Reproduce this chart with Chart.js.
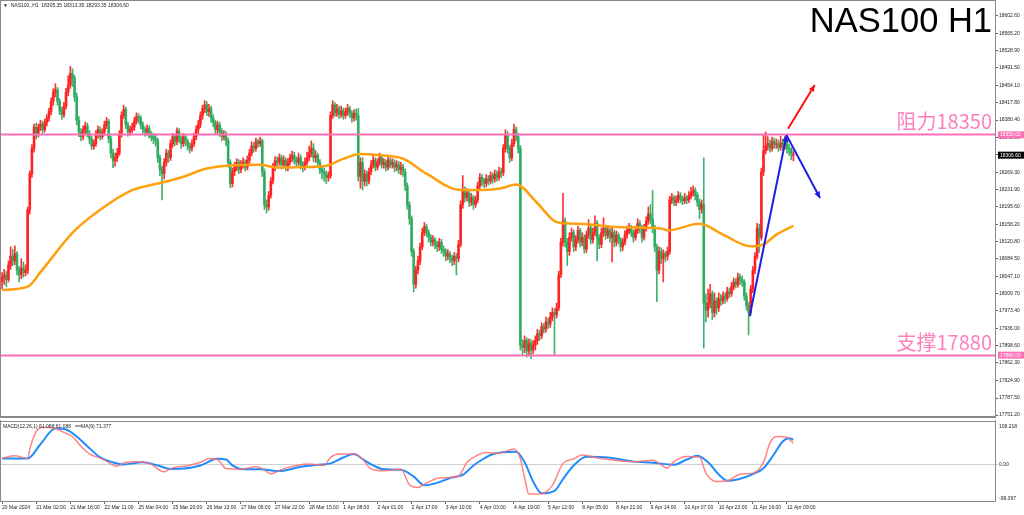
<!DOCTYPE html>
<html lang="zh">
<head>
<meta charset="UTF-8">
<title>NAS100 H1</title>
<script src="https://cdn.jsdelivr.net/npm/chart.js"></script>
<style>
  html, body { margin: 0; padding: 0; background: #fff; }
  .wrap { position: relative; width: 1024px; height: 515px; overflow: hidden; background: #fff; }
  #priceChart { position: absolute; left: 0; top: 0; }
  #macdChart { position: absolute; left: 0; top: 420px; }
</style>
</head>
<body>
<div class="wrap">
  <canvas id="priceChart" width="1024" height="421"></canvas>
  <canvas id="macdChart" width="1024" height="95"></canvas>
</div>
<script>
// ---- H1 candles, bar index 0 = 20 Mar 2024, last bar = 12 Apr 12:00 ----
const opens = [
  18035, 18045, 18050, 18040, 18070, 18090, 18080, 18095, 18060, 18050,
  18065, 18055, 18060, 18189, 18266, 18320, 18365, 18350, 18365, 18372,
  18360, 18375, 18385, 18399, 18420, 18440, 18445, 18420, 18400, 18392,
  18410, 18440, 18455, 18480, 18470, 18430, 18380, 18355, 18345, 18360,
  18368, 18352, 18340, 18325, 18330, 18350, 18360, 18345, 18355, 18370,
  18378, 18340, 18310, 18294, 18300, 18310, 18350, 18390, 18403, 18370,
  18355, 18360, 18365, 18378, 18388, 18384, 18370, 18360, 18355, 18362,
  18350, 18345, 18340, 18336, 18300, 18275, 18266, 18290, 18310, 18300,
  18330, 18345, 18335, 18357, 18340, 18330, 18345, 18335, 18325, 18320,
  18330, 18345, 18360, 18371, 18390, 18405, 18413, 18398, 18405, 18385,
  18375, 18360, 18370, 18355, 18345, 18350, 18336, 18290, 18245, 18270,
  18280, 18290, 18275, 18285, 18290, 18280, 18295, 18310, 18325, 18320,
  18335, 18330, 18336, 18270, 18200, 18195, 18220, 18250, 18280, 18294,
  18290, 18300, 18285, 18295, 18280, 18290, 18300, 18305, 18295, 18290,
  18300, 18285, 18280, 18290, 18300, 18310, 18320, 18300, 18305, 18290,
  18275, 18270, 18265, 18258, 18262, 18390, 18413, 18395, 18405, 18392,
  18400, 18390, 18398, 18405, 18395, 18385, 18395, 18390, 18260, 18290,
  18250, 18265, 18250, 18270, 18285, 18295, 18280, 18290, 18300, 18285,
  18290, 18280, 18295, 18285, 18290, 18280, 18285, 18275, 18280, 18270,
  18240, 18200, 18170, 18100, 18030, 18060, 18080, 18110, 18140, 18153,
  18140, 18130, 18120, 18125, 18115, 18110, 18120, 18105, 18100, 18090,
  18095, 18085, 18080, 18090, 18085, 18115, 18200, 18231, 18215, 18225,
  18205, 18215, 18200, 18210, 18240, 18258, 18250, 18245, 18255, 18250,
  18262, 18255, 18265, 18258, 18270, 18268, 18320, 18350, 18320, 18300,
  18330, 18360, 18345, 18320, 17900, 17895, 17910, 17888, 17905, 17890,
  17900, 17910, 17925, 17920, 17940, 17935, 17950, 17945, 17960, 17970,
  17965, 17980, 18050, 18120, 18165, 18120, 18100, 18130, 18140, 18110,
  18125, 18145, 18120, 18130, 18105, 18135, 18150, 18125, 18140, 18160,
  18130, 18115, 18140, 18150, 18135, 18145, 18130, 18140, 18120, 18135,
  18125, 18110, 18120, 18135, 18145, 18150, 18140, 18130, 18145, 18160,
  18150, 18130, 18150, 18165, 18180, 18170, 18150, 18110, 18060, 18100,
  18085, 18095, 18090, 18100, 18210, 18215, 18205, 18210, 18220, 18212,
  18208, 18215, 18210, 18218, 18225, 18230, 18220, 18205, 18190, 18200,
  17990, 17975, 17990, 18010, 17970, 17995, 17980, 18000, 17995, 18005,
  18000, 18015, 18010, 18025, 18035, 18030, 18045, 18040, 18035, 18005,
  17985, 17970, 18020, 18060, 18090, 18150, 18130, 18270, 18315, 18325,
  18330, 18320, 18335, 18328, 18330, 18322, 18332, 18325, 18335, 18320,
  18318, 18305.35
];
const highs = [
  18055, 18062, 18058, 18080, 18110, 18105, 18112, 18100, 18068, 18085,
  18078, 18072, 18195, 18272, 18328, 18372, 18374, 18372, 18380, 18378,
  18382, 18392, 18406, 18428, 18447, 18458, 18450, 18426, 18408, 18418,
  18448, 18475, 18495, 18490, 18476, 18438, 18388, 18362, 18368, 18376,
  18374, 18358, 18346, 18338, 18358, 18368, 18366, 18362, 18378, 18386,
  18382, 18346, 18318, 18310, 18320, 18358, 18398, 18412, 18408, 18376,
  18368, 18374, 18386, 18396, 18394, 18390, 18376, 18366, 18370, 18368,
  18356, 18352, 18348, 18342, 18306, 18282, 18298, 18318, 18316, 18338,
  18352, 18350, 18364, 18362, 18346, 18352, 18350, 18340, 18332, 18338,
  18352, 18368, 18380, 18398, 18412, 18422, 18420, 18414, 18410, 18392,
  18380, 18378, 18376, 18362, 18358, 18356, 18342, 18296, 18278, 18290,
  18298, 18296, 18294, 18300, 18296, 18304, 18318, 18334, 18332, 18342,
  18340, 18344, 18340, 18276, 18210, 18228, 18258, 18288, 18302, 18302,
  18308, 18306, 18304, 18300, 18298, 18308, 18314, 18312, 18302, 18310,
  18306, 18292, 18300, 18312, 18325, 18336, 18330, 18315, 18310, 18296,
  18284, 18278, 18272, 18270, 18398, 18422, 18418, 18414, 18410, 18410,
  18406, 18406, 18414, 18410, 18400, 18402, 18404, 18405, 18300, 18300,
  18274, 18272, 18278, 18294, 18304, 18300, 18298, 18310, 18306, 18298,
  18296, 18304, 18300, 18298, 18296, 18294, 18292, 18290, 18286, 18276,
  18246, 18206, 18176, 18106, 18068, 18090, 18118, 18150, 18162, 18158,
  18146, 18136, 18134, 18130, 18122, 18128, 18126, 18112, 18106, 18104,
  18100, 18092, 18098, 18096, 18124, 18208, 18262, 18238, 18234, 18230,
  18224, 18220, 18218, 18248, 18266, 18264, 18256, 18264, 18262, 18270,
  18268, 18274, 18272, 18280, 18278, 18328, 18360, 18356, 18326, 18340,
  18372, 18366, 18352, 18326, 17912, 17920, 17916, 17914, 17912, 17910,
  17920, 17934, 17932, 17948, 17946, 17960, 17958, 17970, 17980, 17978,
  17990, 18058, 18128, 18224, 18172, 18128, 18140, 18150, 18146, 18134,
  18154, 18150, 18140, 18136, 18144, 18168, 18156, 18150, 18176, 18166,
  18136, 18150, 18172, 18156, 18154, 18150, 18150, 18146, 18144, 18140,
  18130, 18128, 18144, 18154, 18160, 18156, 18146, 18154, 18170, 18166,
  18156, 18158, 18174, 18195, 18200, 18230, 18156, 18116, 18110, 18108,
  18104, 18100, 18110, 18218, 18224, 18220, 18218, 18228, 18226, 18218,
  18224, 18220, 18228, 18237, 18240, 18236, 18226, 18212, 18210, 18300,
  18010, 18020, 18030, 18016, 18012, 18002, 18012, 18008, 18014, 18012,
  18024, 18022, 18034, 18044, 18042, 18054, 18052, 18048, 18040, 18012,
  17992, 18028, 18068, 18098, 18160, 18158, 18278, 18350, 18355, 18345,
  18338, 18344, 18342, 18340, 18338, 18346, 18340, 18345, 18342, 18328,
  18322, 18313.35
];
const lows = [
  18020, 18030, 18025, 18035, 18062, 18070, 18072, 18050, 18035, 18042,
  18045, 18048, 18052, 18180, 18258, 18312, 18340, 18344, 18358, 18352,
  18355, 18368, 18378, 18392, 18412, 18430, 18412, 18392, 18382, 18386,
  18404, 18432, 18448, 18452, 18420, 18370, 18345, 18336, 18338, 18352,
  18345, 18330, 18318, 18318, 18324, 18342, 18338, 18340, 18348, 18362,
  18332, 18300, 18279, 18282, 18292, 18305, 18344, 18384, 18362, 18346,
  18348, 18354, 18358, 18372, 18374, 18362, 18352, 18346, 18348, 18342,
  18336, 18330, 18325, 18290, 18262, 18210, 18255, 18282, 18290, 18294,
  18322, 18326, 18328, 18332, 18320, 18324, 18326, 18316, 18310, 18314,
  18324, 18338, 18352, 18364, 18382, 18396, 18390, 18388, 18376, 18366,
  18350, 18352, 18346, 18336, 18338, 18326, 18280, 18236, 18238, 18262,
  18272, 18266, 18268, 18278, 18272, 18274, 18288, 18304, 18312, 18314,
  18322, 18324, 18260, 18190, 18182, 18188, 18214, 18244, 18272, 18282,
  18284, 18276, 18278, 18272, 18272, 18284, 18292, 18286, 18282, 18284,
  18276, 18270, 18274, 18284, 18294, 18302, 18292, 18290, 18280, 18266,
  18255, 18250, 18245, 18250, 18256, 18384, 18388, 18388, 18384, 18386,
  18382, 18384, 18390, 18386, 18376, 18378, 18380, 18250, 18235, 18231,
  18240, 18240, 18244, 18264, 18278, 18272, 18274, 18284, 18278, 18278,
  18272, 18274, 18278, 18278, 18270, 18272, 18266, 18264, 18260, 18230,
  18190, 18158, 18090, 18014, 18022, 18052, 18072, 18104, 18134, 18132,
  18120, 18112, 18112, 18106, 18100, 18102, 18096, 18090, 18080, 18082,
  18076, 18070, 18072, 18050, 18078, 18110, 18192, 18206, 18208, 18196,
  18198, 18190, 18194, 18204, 18232, 18240, 18236, 18238, 18242, 18244,
  18246, 18248, 18250, 18252, 18258, 18262, 18312, 18310, 18290, 18294,
  18324, 18336, 18310, 17890, 17878, 17884, 17875, 17880, 17872, 17882,
  17890, 17902, 17910, 17914, 17926, 17928, 17936, 17938, 17952, 17880,
  17958, 17974, 18044, 18112, 18110, 18070, 18092, 18122, 18100, 18102,
  18118, 18110, 18112, 18096, 18098, 18128, 18116, 18118, 18134, 18080,
  18106, 18108, 18132, 18126, 18128, 18120, 18078, 18110, 18112, 18116,
  18100, 18102, 18114, 18128, 18138, 18132, 18120, 18124, 18138, 18140,
  18120, 18124, 18144, 18158, 18160, 18140, 18100, 17993, 18052, 18074,
  18035, 18078, 18082, 18094, 18202, 18198, 18198, 18204, 18204, 18200,
  18202, 18202, 18204, 18212, 18218, 18210, 18196, 18170, 18182, 17894,
  17950, 17960, 17980, 17955, 17960, 17966, 17972, 17985, 17988, 17990,
  17994, 18002, 18004, 18018, 18022, 18024, 18030, 18026, 17996, 17975,
  17922, 17964, 18012, 18052, 18084, 18098, 18124, 18262, 18308, 18316,
  18312, 18314, 18320, 18320, 18314, 18316, 18316, 18318, 18310, 18305,
  18296, 18293.35
];
const closes = [
  18045, 18050, 18040, 18070, 18090, 18080, 18095, 18060, 18050, 18065,
  18055, 18060, 18189, 18266, 18320, 18365, 18350, 18365, 18372, 18360,
  18375, 18385, 18399, 18420, 18440, 18445, 18420, 18400, 18392, 18410,
  18440, 18455, 18480, 18470, 18430, 18380, 18355, 18345, 18360, 18368,
  18352, 18340, 18325, 18330, 18350, 18360, 18345, 18355, 18370, 18378,
  18340, 18310, 18294, 18300, 18310, 18350, 18390, 18403, 18370, 18355,
  18360, 18365, 18378, 18388, 18384, 18370, 18360, 18355, 18362, 18350,
  18345, 18340, 18336, 18300, 18275, 18266, 18290, 18310, 18300, 18330,
  18345, 18335, 18357, 18340, 18330, 18345, 18335, 18325, 18320, 18330,
  18345, 18360, 18371, 18390, 18405, 18413, 18398, 18405, 18385, 18375,
  18360, 18370, 18355, 18345, 18350, 18336, 18290, 18245, 18270, 18280,
  18290, 18275, 18285, 18290, 18280, 18295, 18310, 18325, 18320, 18335,
  18330, 18336, 18270, 18200, 18195, 18220, 18250, 18280, 18294, 18290,
  18300, 18285, 18295, 18280, 18290, 18300, 18305, 18295, 18290, 18300,
  18285, 18280, 18290, 18300, 18310, 18320, 18300, 18305, 18290, 18275,
  18270, 18265, 18258, 18262, 18390, 18413, 18395, 18405, 18392, 18400,
  18390, 18398, 18405, 18395, 18385, 18395, 18390, 18260, 18290, 18250,
  18265, 18250, 18270, 18285, 18295, 18280, 18290, 18300, 18285, 18290,
  18280, 18295, 18285, 18290, 18280, 18285, 18275, 18280, 18270, 18240,
  18200, 18170, 18100, 18030, 18060, 18080, 18110, 18140, 18153, 18140,
  18130, 18120, 18125, 18115, 18110, 18120, 18105, 18100, 18090, 18095,
  18085, 18080, 18090, 18085, 18115, 18200, 18231, 18215, 18225, 18205,
  18215, 18200, 18210, 18240, 18258, 18250, 18245, 18255, 18250, 18262,
  18255, 18265, 18258, 18270, 18268, 18320, 18350, 18320, 18300, 18330,
  18360, 18345, 18320, 17900, 17895, 17910, 17888, 17905, 17890, 17900,
  17910, 17925, 17920, 17940, 17935, 17950, 17945, 17960, 17970, 17965,
  17980, 18050, 18120, 18165, 18120, 18100, 18130, 18140, 18110, 18125,
  18145, 18120, 18130, 18105, 18135, 18150, 18125, 18140, 18160, 18130,
  18115, 18140, 18150, 18135, 18145, 18130, 18140, 18120, 18135, 18125,
  18110, 18120, 18135, 18145, 18150, 18140, 18130, 18145, 18160, 18150,
  18130, 18150, 18165, 18180, 18170, 18150, 18110, 18060, 18100, 18085,
  18095, 18090, 18100, 18210, 18215, 18205, 18210, 18220, 18212, 18208,
  18215, 18210, 18218, 18225, 18230, 18220, 18205, 18190, 18200, 17990,
  17975, 17990, 18010, 17970, 17995, 17980, 18000, 17995, 18005, 18000,
  18015, 18010, 18025, 18035, 18030, 18045, 18040, 18035, 18005, 17985,
  17970, 18020, 18060, 18090, 18150, 18130, 18270, 18315, 18325, 18330,
  18320, 18335, 18328, 18330, 18322, 18332, 18325, 18335, 18320, 18318,
  18310, 18306.6
];

// moving average (orange) at these bar indices
const maIdx = [0, 12, 18, 33, 46, 61, 73, 84, 96, 106,
  121, 129, 140, 152, 159, 168, 176, 188, 199, 215,
  224, 234, 241, 251, 260, 271, 286, 299, 309, 312,
  327, 338, 351, 357, 363, 371];
const maVals = [18018, 18025, 18056, 18140, 18189, 18231, 18245, 18258, 18277, 18283,
  18285, 18279, 18280, 18283, 18296, 18308, 18306, 18298, 18266, 18231,
  18231, 18235, 18243, 18203, 18163, 18159, 18153, 18151, 18149, 18145,
  18159, 18136, 18111, 18115, 18136, 18155];

// MACD pane (red = MACD, blue = MA(9) signal)
const macdIdx = [0, 6, 12, 13, 16, 19, 25, 30, 33, 37,
  41, 47, 54, 58, 63, 69, 76, 80, 87, 93,
  97, 101, 105, 112, 119, 122, 126, 132, 138, 144,
  151, 154, 158, 165, 169, 173, 179, 187, 191, 195,
  199, 205, 214, 218, 223, 227, 233, 240, 243, 245,
  247, 252, 258, 263, 268, 272, 280, 296, 305, 312,
  315, 321, 327, 330, 335, 340, 346, 352, 357, 360,
  363, 368, 370, 371];
const macdVals = [18, 25, 17, 44, 94, 107, 103, 89, 80, 52,
  30, 16, -5, 6, 8, 3, -21, -10, -4, 6,
  17, 14, -12, -14, -7, -12, -27, -12, -3, 1,
  -3, 20, 30, 30, 15, -13, -18, -14, -58, -66,
  -53, -39, -33, 6, 27, 34, 32, 44, 16, -39,
  -85, -85, -60, 3, 16, 27, 18, 8, 12, -10,
  8, 23, 21, -25, -49, -47, -28, -25, 6, 61,
  80, 78, 67, 61];
const sigIdx = [0, 12, 18, 25, 30, 35, 40, 46, 52, 57,
  66, 73, 79, 85, 93, 101, 105, 108, 113, 121,
  130, 140, 148, 154, 160, 165, 169, 174, 179, 187,
  193, 198, 204, 210, 216, 221, 226, 230, 241, 245,
  249, 253, 259, 263, 268, 274, 284, 296, 305, 315,
  321, 326, 331, 337, 340, 346, 352, 357, 362, 366,
  369, 371];
const sigVals = [17, 17, 58, 103, 100, 80, 52, 20, 6, 0,
  6, -3, -13, -12, -3, 16, 14, -3, -14, -14,
  -19, -7, -1, 3, 20, 30, 15, -3, -14, -15,
  -35, -60, -53, -39, -30, -3, 17, 29, 36, 6,
  -49, -83, -76, -42, -3, 22, 20, 8, 5, -1,
  14, 25, 6, -35, -47, -41, -28, -11, 30, 66,
  75, 71];

// axis labels
const priceTicks = [18602.6, 18565.2, 18528.9, 18491.5, 18454.1, 18417.8, 18380.4, 18343.0,
  18306.6, 18269.3, 18231.9, 18195.6, 18158.2, 18120.8, 18084.5, 18047.1, 18009.7,
  17973.4, 17936.0, 17898.6, 17862.3, 17824.9, 17787.5, 17751.2];
const timeTickIdx = [0, 16, 32, 48, 64, 80, 96, 112, 128, 144, 160, 176,
  192, 208, 224, 240, 256, 272, 288, 304, 320, 336, 352, 368];
const timeLabels = ['20 Mar 2024', '21 Mar 02:00', '21 Mar 18:00', '22 Mar 11:00', '25 Mar 04:00',
  '25 Mar 20:00', '26 Mar 13:00', '27 Mar 06:00', '27 Mar 22:00', '28 Mar 15:00', '1 Apr 08:00',
  '2 Apr 01:00', '2 Apr 17:00', '3 Apr 10:00', '4 Apr 03:00', '4 Apr 19:00', '5 Apr 12:00',
  '8 Apr 05:00', '8 Apr 21:00', '9 Apr 14:00', '10 Apr 07:00', '10 Apr 23:00', '11 Apr 16:00',
  '12 Apr 09:00'];
const macdTicks = [108.218, 0, -99.397];
const macdTickLabels = ['108.218', '0.00', '-99.397'];

// support / resistance and the drawn arrows (bar index, price)
const levelValues = [18350, 17880];
const levelTexts = ['阻力18350', '支撑17880'];
const lastPrice = 18306.6;
const redArrow = [[368.5, 18362], [381, 18455]];
const bluePath = [[350.5, 17962], [367.8, 18348], [383.5, 18214]];

const UP = 'rgba(255, 30, 30, 0.92)';
const DOWN = 'rgba(46, 170, 96, 0.92)';
const FONT = 'Liberation Sans';
Chart.defaults.font.family = FONT;
Chart.defaults.animation = false;

const candleColor = (ctx) => closes[ctx.dataIndex] > opens[ctx.dataIndex] ? UP : DOWN;

function drawArrow(ctx, x1, y1, x2, y2, color, head) {
  ctx.strokeStyle = color;
  ctx.fillStyle = color;
  ctx.lineWidth = 2;
  ctx.beginPath();
  ctx.moveTo(x1, y1);
  ctx.lineTo(x2, y2);
  ctx.stroke();
  const ang = Math.atan2(y2 - y1, x2 - x1);
  ctx.beginPath();
  ctx.moveTo(x2, y2);
  ctx.lineTo(x2 - head * Math.cos(ang - 0.45), y2 - head * Math.sin(ang - 0.45));
  ctx.lineTo(x2 - head * Math.cos(ang + 0.45), y2 - head * Math.sin(ang + 0.45));
  ctx.closePath();
  ctx.fill();
}

function axisBox(ctx, area, py, fill, text) {
  ctx.fillStyle = fill;
  ctx.fillRect(area.right + 2, py - 3, 26, 7);
  ctx.fillStyle = '#fff';
  ctx.font = '5px ' + FONT;
  ctx.textAlign = 'left';
  ctx.textBaseline = 'middle';
  ctx.fillText(text, area.right + 4, py + 0.5);
}

const pricePlugin = {
  id: 'priceOverlay',
  afterDatasetsDraw(chart) {
    const { ctx, chartArea: a, scales: { x, y } } = chart;
    ctx.save();
    // support / resistance lines
    levelValues.forEach((v, k) => {
      const py = Math.round(y.getPixelForValue(v)) + 0.5;
      ctx.strokeStyle = '#ff6fb5';
      ctx.lineWidth = 2;
      ctx.beginPath();
      ctx.moveTo(a.left, py);
      ctx.lineTo(a.right, py);
      ctx.stroke();
      ctx.fillStyle = '#ff7fbf';
      ctx.font = '20px "Noto Sans CJK SC"';
      ctx.textAlign = 'right';
      ctx.textBaseline = 'alphabetic';
      ctx.fillText(levelTexts[k], a.right - 4, py - 6);
    });
    // arrows
    const px = (p) => [x.getPixelForValue(p[0]), y.getPixelForValue(p[1])];
    const r0 = px(redArrow[0]), r1 = px(redArrow[1]);
    drawArrow(ctx, r0[0], r0[1], r1[0], r1[1], '#ff1010', 7);
    const b = bluePath.map(px);
    drawArrow(ctx, b[0][0], b[0][1], b[1][0], b[1][1], '#1f1fe6', 7);
    drawArrow(ctx, b[1][0], b[1][1], b[2][0], b[2][1], '#1f1fe6', 7);
    ctx.restore();
  },
  afterDraw(chart) {
    const { ctx, chartArea: a, scales: { y } } = chart;
    ctx.save();
    // frame
    ctx.strokeStyle = '#8a8a8a';
    ctx.lineWidth = 1;
    ctx.beginPath();
    ctx.moveTo(0.5, 0);
    ctx.lineTo(0.5, a.bottom);
    ctx.moveTo(0, 0.5);
    ctx.lineTo(a.right, 0.5);
    ctx.moveTo(a.right - 0.5, 0);
    ctx.lineTo(a.right - 0.5, a.bottom);
    ctx.stroke();
    ctx.lineWidth = 2;
    ctx.beginPath();
    ctx.moveTo(0, a.bottom);
    ctx.lineTo(a.right, a.bottom);
    ctx.stroke();
    // axis boxes
    levelValues.forEach((v) => axisBox(ctx, a, y.getPixelForValue(v), '#ff6fb5', v.toFixed(2)));
    axisBox(ctx, a, y.getPixelForValue(lastPrice), '#000', lastPrice.toFixed(2));
    // title and header
    ctx.fillStyle = '#000';
    ctx.font = '34.5px ' + FONT;
    ctx.textAlign = 'right';
    ctx.textBaseline = 'alphabetic';
    ctx.fillText('NAS100 H1', a.right - 4, 32);
    ctx.font = '5px ' + FONT;
    ctx.textAlign = 'left';
    ctx.textBaseline = 'middle';
    ctx.fillStyle = '#222';
    ctx.fillText('\u25BC  NAS100.,H1  18305.35 18313.35 18293.35 18306.60', 3, 6);
    ctx.restore();
  }
};

new Chart(document.getElementById('priceChart'), {
  type: 'bar',
  data: {
    datasets: [
      {
        label: 'wick',
        data: closes.map((c, i) => ({ x: i, y: [lows[i], highs[i]] })),
        backgroundColor: candleColor,
        barThickness: 1,
        grouped: false,
        order: 3
      },
      {
        label: 'body',
        data: closes.map((c, i) => ({ x: i, y: [opens[i], c] })),
        backgroundColor: candleColor,
        barThickness: 2,
        minBarLength: 1,
        grouped: false,
        order: 2
      },
      {
        type: 'line',
        label: 'MA',
        data: maIdx.map((b, k) => ({ x: b, y: maVals[k] })),
        borderColor: '#ffa010',
        borderWidth: 2.5,
        pointRadius: 0,
        cubicInterpolationMode: 'monotone',
        order: 1
      }
    ]
  },
  options: {
    responsive: false,
    layout: { padding: { left: 1, top: 1, right: 0, bottom: 1 } },
    plugins: { legend: { display: false }, tooltip: { enabled: false } },
    scales: {
      x: { type: 'linear', min: -0.5, max: 466, offset: false, display: false },
      y: {
        position: 'right',
        min: 17747,
        max: 18628,
        afterBuildTicks: (s) => { s.ticks = priceTicks.map((v) => ({ value: v })); },
        afterFit: (s) => { s.width = 28; },
        ticks: { font: { size: 5 }, color: '#222', padding: 1, callback: (v) => v.toFixed(2) },
        grid: { drawOnChartArea: false, tickLength: 2, color: '#666' },
        border: { display: false }
      }
    }
  },
  plugins: [pricePlugin]
});

const macdPlugin = {
  id: 'macdOverlay',
  afterDraw(chart) {
    const { ctx, chartArea: a } = chart;
    ctx.save();
    ctx.strokeStyle = '#8a8a8a';
    ctx.lineWidth = 1;
    ctx.beginPath();
    ctx.moveTo(0, 1.5);
    ctx.lineTo(a.right, 1.5);
    ctx.moveTo(0.5, 0);
    ctx.lineTo(0.5, a.bottom);
    ctx.moveTo(a.right - 0.5, 0);
    ctx.lineTo(a.right - 0.5, a.bottom + 0.5);
    ctx.moveTo(0, a.bottom + 0.5);
    ctx.lineTo(a.right, a.bottom + 0.5);
    ctx.stroke();
    ctx.fillStyle = '#222';
    ctx.font = '5px ' + FONT;
    ctx.textAlign = 'left';
    ctx.textBaseline = 'middle';
    ctx.fillText('MACD(12,26,1) 61.088 61.088   ==MA(9) 71.377', 3, 6.5);
    ctx.restore();
  }
};

new Chart(document.getElementById('macdChart'), {
  type: 'line',
  data: {
    datasets: [
      {
        label: 'MACD',
        data: macdIdx.map((b, k) => ({ x: b, y: macdVals[k] })),
        borderColor: 'rgba(255, 110, 110, 0.85)',
        borderWidth: 1.5,
        pointRadius: 0,
        cubicInterpolationMode: 'monotone'
      },
      {
        label: 'MA(9)',
        data: sigIdx.map((b, k) => ({ x: b, y: sigVals[k] })),
        borderColor: '#1e8cff',
        borderWidth: 2,
        pointRadius: 0,
        cubicInterpolationMode: 'monotone'
      }
    ]
  },
  options: {
    responsive: false,
    layout: { padding: { left: 1, top: 1, right: 0, bottom: 0 } },
    plugins: { legend: { display: false }, tooltip: { enabled: false } },
    scales: {
      x: {
        type: 'linear',
        min: -0.5,
        max: 466,
        offset: false,
        afterBuildTicks: (s) => { s.ticks = timeTickIdx.map((v) => ({ value: v })); },
        afterFit: (s) => { s.height = 14; },
        ticks: {
          align: 'start', autoSkip: false, maxRotation: 0, minRotation: 0,
          font: { size: 5 }, color: '#222', padding: 1,
          callback: (v, i) => timeLabels[i]
        },
        grid: { drawOnChartArea: false, tickLength: 3, color: '#666' },
        border: { display: false }
      },
      y: {
        position: 'right',
        min: -105,
        max: 116,
        afterBuildTicks: (s) => { s.ticks = macdTicks.map((v) => ({ value: v })); },
        afterFit: (s) => { s.width = 28; },
        ticks: { font: { size: 5 }, color: '#222', padding: 1, callback: (v, i) => macdTickLabels[i] },
        grid: {
          color: (c) => (c.tick && c.tick.value === 0 ? '#cfcfcf' : 'rgba(0,0,0,0)'),
          tickLength: 2
        },
        border: { display: false }
      }
    }
  },
  plugins: [macdPlugin]
});
</script>
</body>
</html>
